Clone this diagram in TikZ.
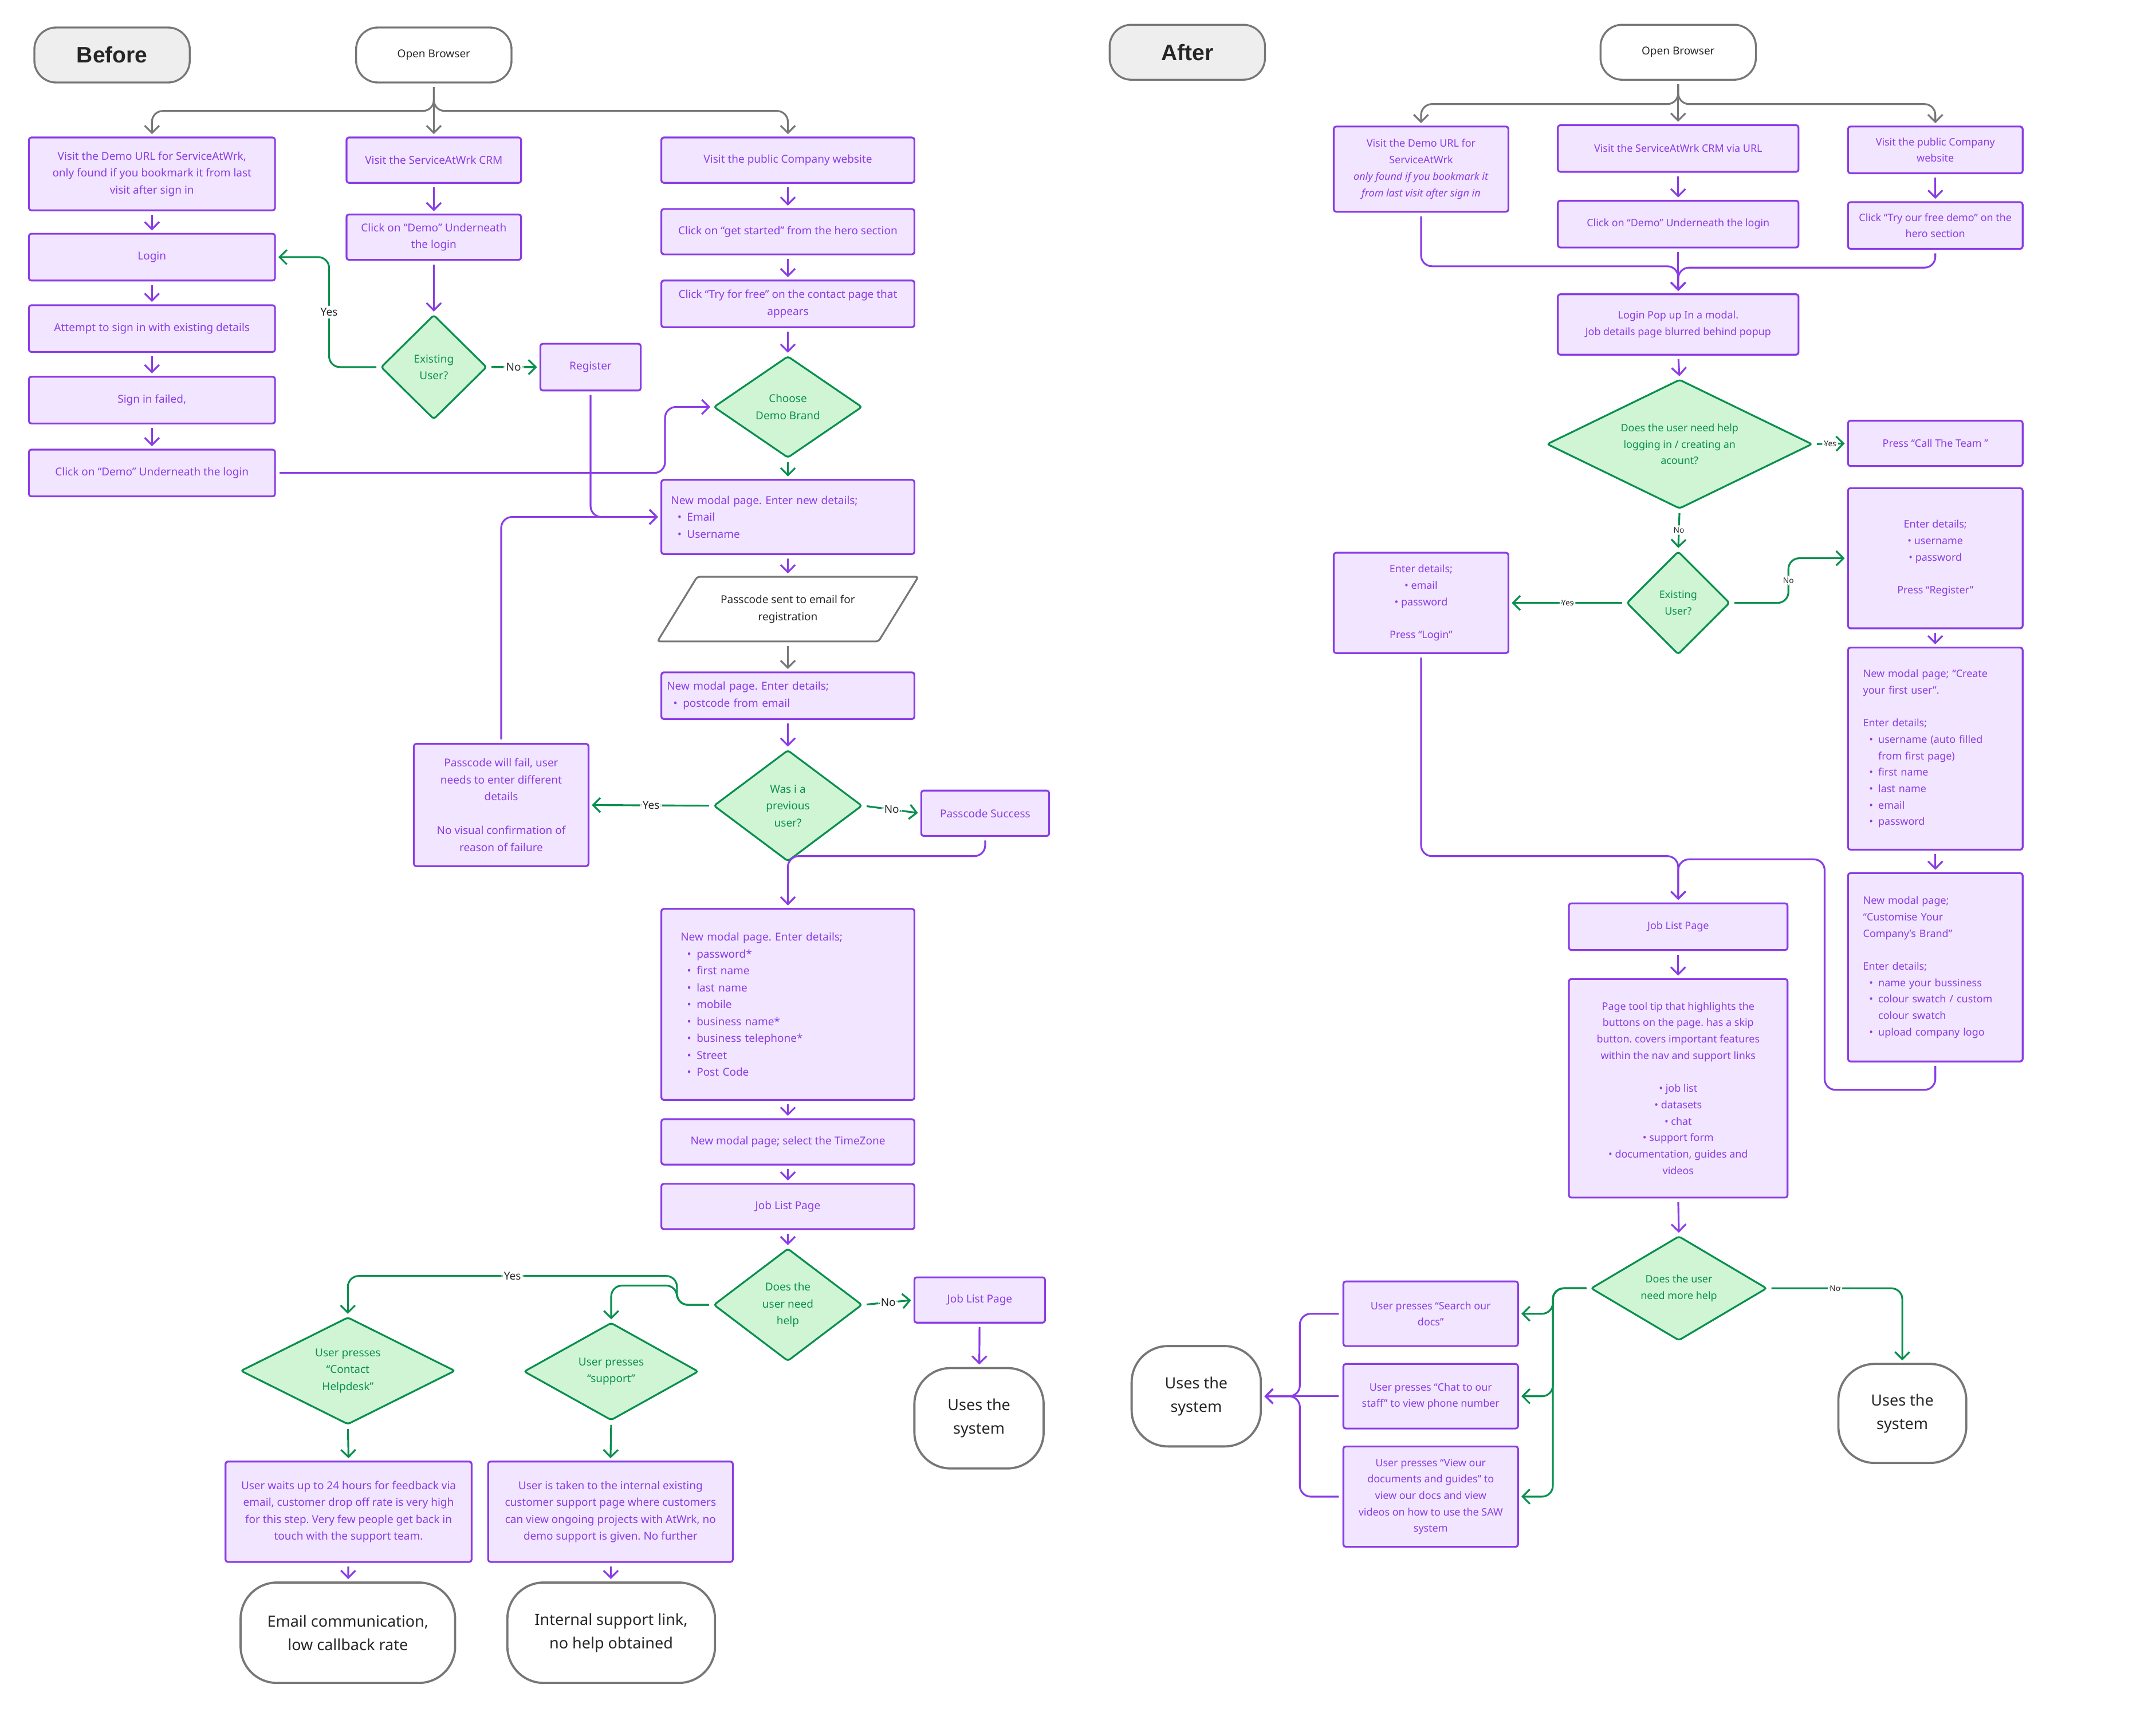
\documentclass[tikz,border=0pt]{standalone}
\usepackage{fontspec}
\setmainfont{Noto Sans}
\newfontfamily\headfont{Liberation Sans}
\usetikzlibrary{shapes.geometric, arrows.meta}
\usetikzlibrary{calc,positioning}

\definecolor{purp}{HTML}{8A3DE6}
\definecolor{purpfill}{HTML}{F1E5FF}
\definecolor{grn}{HTML}{0A8F4F}
\definecolor{grnfill}{HTML}{CFF5D5}
\definecolor{gry}{HTML}{777777}
\definecolor{pillfill}{HTML}{EEEEEE}

\newcommand{\bfnt}{\fontsize{9}{14}\selectfont}
\newcommand{\afnt}{\fontsize{8.5}{13.6}\selectfont}
\newcommand{\bul}{\hspace*{0.6em}\textbullet\hspace{0.5em}}
\newcommand{\bulind}{\hspace*{0.6em}\phantom{\textbullet}\hspace{0.5em}}

\tikzset{
  wh/.style 2 args={minimum width=#1*0.04cm, minimum height=#2*0.04cm},
  tw/.style={text width=#1*0.04cm},
  pbox/.style={draw=purp, fill=purpfill, text=purp, line width=1.5pt, rounded corners=2pt, align=center, inner sep=2pt, font=\bfnt},
  pboxA/.style={pbox, font=\afnt},
  gdia/.style={diamond, draw=grn, fill=grnfill, text=grn, line width=1.5pt, rounded corners=2pt, align=center, inner sep=0pt, font=\bfnt},
  gdiaA/.style={gdia, font=\afnt},
  pill/.style={draw=gry, line width=1.6pt, rounded corners=18pt, text=black!85},
  head/.style={pill, fill=pillfill, wh={113}{40}, font=\headfont\fontsize{18.5}{22}\selectfont\bfseries},
  term/.style={draw=gry, fill=white, line width=1.8pt, rounded corners=30pt, align=center, text=black!85, font=\fontsize{12.8}{19.5}\selectfont},
  pline/.style={draw=purp, line width=1.5pt, -{Straight Barb[length=6pt,width=12pt]}, rounded corners=9pt, shorten <=3pt, shorten >=2pt},
  gline/.style={pline, draw=grn},
  grline/.style={pline, draw=gry},
  lbl/.style={fill=white, text=black!85, inner sep=2pt, font=\bfnt},
  albl/.style={lbl, inner sep=1.5pt, font=\fontsize{6.5}{8}\selectfont},
}

\begin{document}
\frenchspacing
\begin{tikzpicture}[x=0.04cm, y=-0.04cm]

    \useasboundingbox (0,0) rectangle (1568,1245);

    % Before: heading and start
    \node[head] (before) at (81.5,40) {Before};
    \node[pill, fill=white, wh={113}{40}, font=\fontsize{9}{11}\selectfont] (obA) at (315.5,40) {Open Browser};

    % Before: three entry routes
    \node[pbox, wh={179}{53}] (a1) at (110.5,126.5) {Visit the Demo URL for ServiceAtWrk,\\only found if you bookmark it from last\\visit after sign in};
    \node[pbox, wh={127}{33}] (a2) at (315.5,116.5) {Visit the ServiceAtWrk CRM};
    \node[pbox, wh={184}{33}] (a3) at (573,116.5) {Visit the public Company website};

    \node[pbox, wh={179}{34}] (b1) at (110.5,187) {Login};
    \node[pbox, wh={179}{34}] (c1) at (110.5,239) {Attempt to sign in with existing details};
    \node[pbox, wh={179}{34}] (d1) at (110.5,291) {Sign in failed,};
    \node[pbox, wh={179}{34}] (e1) at (110.5,344) {Click on “Demo” Underneath the login};

    \node[pbox, wh={127}{33}] (a2b) at (315.5,172.5) {Click on “Demo” Underneath\\the login};
    \node[gdia, wh={77}{76}] (exA) at (315.5,267) {Existing\\User?};
    \node[pbox, wh={73}{34}] (reg) at (429.5,267) {Register};

    \node[pbox, wh={184}{33}] (a3b) at (573,168.5) {Click on “get started” from the hero section};
    \node[pbox, wh={184}{34}] (a3c) at (573,221) {Click “Try for free” on the contact page that\\appears};
    \node[gdia, wh={108}{74}, aspect=1.5] (brand) at (573,296) {Choose\\Demo Brand};

    % Before: registration
    \node[pbox, wh={184}{54}, tw=170, align=left] (m1) at (573,376) {New modal page. Enter new details;\\\bul Email\\\bul Username};
    \node[trapezium, trapezium left angle=49, trapezium right angle=131, trapezium stretches=true,
          draw=gry, fill=white, line width=1.5pt, rounded corners=2pt, wh={190}{47},
          align=center, text=black!85, font=\bfnt] (pc) at (573,443) {Passcode sent to email for\\registration};
    \node[pbox, wh={184}{34}, tw=176, align=left] (m2) at (573,506) {New modal page. Enter details;\\\bul postcode from email};
    \node[gdia, wh={108}{81}, aspect=1.3] (was) at (573,586) {Was i a\\previous\\user?};
    \node[pbox, wh={127}{89}] (fail) at (364.5,585.5) {Passcode will fail, user\\needs to enter different\\details\\[14pt]No visual confirmation of\\reason of failure};
    \node[pbox, wh={93}{33}] (succ) at (716.5,591.5) {Passcode Success};

    \node[pbox, wh={184}{139}, tw=156, align=left] (m3) at (573,730.5) {New modal page. Enter details;\\\bul password*\\\bul first name\\\bul last name\\\bul mobile\\\bul business name*\\\bul business telephone*\\\bul Street\\\bul Post Code};
    \node[pbox, wh={184}{33}] (m4) at (573,830.5) {New modal page; select the TimeZone};
    \node[pbox, wh={184}{33}] (jlA) at (573,877.5) {Job List Page};

    % Before: help
    \node[gdia, wh={108}{82}, aspect=1.3] (need) at (573,949) {Does the\\user need\\help};
    \node[pbox, wh={95}{33}] (jlB) at (712.5,945.5) {Job List Page};
    \node[term, wh={94}{73}] (useA) at (712,1031.5) {Uses the\\system};
    \node[gdia, wh={156}{78}, aspect=2] (ch) at (253,997) {User presses\\“Contact\\Helpdesk”};
    \node[gdia, wh={127}{71}, aspect=1.8] (sp) at (444.5,997.5) {User presses\\“support”};
    \node[pbox, wh={179}{73}] (w1) at (253.5,1099.5) {User waits up to 24 hours for feedback via\\email, customer drop off rate is very high\\for this step. Very few people get back in\\touch with the support team.};
    \node[pbox, wh={178}{73}] (w2) at (444,1099.5) {User is taken to the internal existing\\customer support page where customers\\can view ongoing projects with AtWrk, no\\demo support is given. No further};
    \node[term, wh={156}{73}] (t1) at (253,1187.5) {Email communication,\\low callback rate};
    \node[term, wh={151}{73}] (t2) at (444.5,1187.5) {Internal support link,\\no help obtained};

    % Before: connectors
    \draw[grline] (obA.south) -- (a2.north);
    \draw[grline] (obA.south) -- ++(0,20) -| (a1.north);
    \draw[grline] (obA.south) -- ++(0,20) -| (a3.north);
    \draw[pline] (a1) -- (b1);
    \draw[pline] (b1) -- (c1);
    \draw[pline] (c1) -- (d1);
    \draw[pline] (d1) -- (e1);
    \draw[pline] (a2) -- (a2b);
    \draw[pline] (a2b) -- (exA.north);
    \draw[gline] (exA.west) -- ++(-37,0) |- node[lbl, pos=0.25] {Yes} (b1.east);
    \draw[gline] (exA.east) -- node[lbl] {No} (reg.west);
    \draw[pline] (reg.south) |- (m1.west);
    \draw[pline] (e1.east) -- ++(283,0) |- (brand.west);
    \draw[pline] (a3) -- (a3b);
    \draw[pline] (a3b) -- (a3c);
    \draw[pline] (a3c) -- (brand.north);
    \draw[gline] (brand.south) -- (m1.north);
    \draw[pline] (m1) -- (pc);
    \draw[grline] (pc.south) -- (m2.north);
    \draw[pline] (m2) -- (was.north);
    \draw[gline] (was.west) -- node[lbl] {Yes} (fail.east);
    \draw[gline] (was.east) -- node[lbl] {No} (succ.west);
    \draw[pline] (fail.north) |- (m1.west);
    \draw[pline] (succ.south) -- ++(0,14) -| (m3.north);
    \draw[pline] (m3) -- (m4);
    \draw[pline] (m4) -- (jlA);
    \draw[pline] (jlA) -- (need.north);
    \draw[gline] (need.east) -- node[lbl] {No} (jlB.west);
    \draw[pline] (jlB) -- (useA);
    \draw[gline] (need.west) -- ++(-26,0) -- ++(0,-21) -| node[lbl, pos=0.25] {Yes} (ch.north);
    \draw[gline] (need.west) -- ++(-26,0) -- ++(0,-14) -| (sp.north);
    \draw[gline] (ch.south) -- (w1.north);
    \draw[gline] (sp.south) -- (w2.north);
    \draw[pline] (w1) -- (t1);
    \draw[pline] (w2) -- (t2);

    % After: heading and start
    \node[head] (after) at (863.5,38) {After};
    \node[pill, fill=white, wh={113}{40}, font=\fontsize{9}{11}\selectfont] (obB) at (1220.5,38) {Open Browser};

    \node[pboxA, wh={127}{62}] (r1) at (1033.5,123) {Visit the Demo URL for\\ServiceAtWrk\\\textit{only found if you bookmark it}\\\textit{from last visit after sign in}};
    \node[pboxA, wh={175}{34}] (r2) at (1220.5,108) {Visit the ServiceAtWrk CRM via URL};
    \node[pboxA, wh={127}{34}] (r3) at (1407.5,109) {Visit the public Company\\website};
    \node[pboxA, wh={175}{34}] (r2b) at (1220.5,163) {Click on “Demo” Underneath the login};
    \node[pboxA, wh={127}{34}] (r3b) at (1407.5,164) {Click “Try our free demo” on the\\hero section};
    \node[pboxA, wh={175}{44}] (lp) at (1220.5,236) {Login Pop up In a modal.\\Job details page blurred behind popup};

    % After: login or register
    \node[gdiaA, wh={193}{94}, aspect=2] (help) at (1221.5,323) {Does the user need help\\logging in / creating an\\acount?};
    \node[pboxA, wh={127}{33}] (call) at (1407.5,322.5) {Press “Call The Team ”};
    \node[gdiaA, wh={75}{75}] (exB) at (1220.5,438.5) {Existing\\User?};
    \node[pboxA, wh={127}{73}] (logB) at (1033.5,438.5) {Enter details;\\\textbullet\ email\\\textbullet\ password\\[13.6pt]Press “Login”};
    \node[pboxA, wh={127}{102}] (regB) at (1407.5,406) {Enter details;\\\textbullet\ username\\\textbullet\ password\\[13.6pt]Press “Register”};
    \node[pboxA, wh={127}{147}, tw=105, align=left] (cr) at (1407.5,544.5) {New modal page; “Create\\your first user”.\\[13.6pt]Enter details;\\\bul username (auto filled\\\bulind from first page)\\\bul first name\\\bul last name\\\bul email\\\bul password};
    \node[pboxA, wh={127}{137}, tw=105, align=left] (cu) at (1407.5,703.5) {New modal page;\\“Customise Your\\Company’s Brand”\\[13.6pt]Enter details;\\\bul name your bussiness\\\bul colour swatch / custom\\\bulind colour swatch\\\bul upload company logo};

    % After: job list and help
    \node[pboxA, wh={159}{34}] (jlC) at (1220.5,674) {Job List Page};
    \node[pboxA, wh={159}{159}] (tip) at (1220.5,791.5) {Page tool tip that highlights the\\buttons on the page. has a skip\\button. covers important features\\within the nav and support links\\[13.6pt]\textbullet\ job list\\\textbullet\ datasets\\\textbullet\ chat\\\textbullet\ support form\\\textbullet\ documentation, guides and\\videos};
    \node[gdiaA, wh={128}{76}, aspect=1.7] (more) at (1221,937) {Does the user\\need more help};
    \node[term, wh={93}{72}] (useC) at (1383.5,1028) {Uses the\\system};
    \node[pboxA, wh={127}{47}] (s1) at (1040.5,955.5) {User presses “Search our\\docs”};
    \node[pboxA, wh={127}{47}] (s2) at (1040.5,1015.5) {User presses “Chat to our\\staff” to view phone number};
    \node[pboxA, wh={127}{73}] (s3) at (1040.5,1088.5) {User presses “View our\\documents and guides” to\\view our docs and view\\videos on how to use the SAW\\system};
    \node[term, wh={94}{73}] (useB) at (870,1015.5) {Uses the\\system};

    % After: connectors
    \draw[grline] (obB.south) -- (r2.north);
    \draw[grline] (obB.south) -- ++(0,17) -| (r1.north);
    \draw[grline] (obB.south) -- ++(0,17) -| (r3.north);
    \draw[pline] (r2) -- (r2b);
    \draw[pline] (r3) -- (r3b);
    \draw[pline] (r1.south) -- ++(0,39) -| (lp.north);
    \draw[pline] (r3b.south) -- ++(0,13) -| (lp.north);
    \draw[pline] (r2b) -- (lp);
    \draw[pline] (lp.south) -- (help.north);
    \draw[gline] (help.east) -- node[albl] {Yes} (call.west);
    \draw[gline] (help.south) -- node[albl] {No} (exB.north);
    \draw[gline] (exB.west) -- node[albl] {Yes} (logB.east);
    \draw[gline] (exB.east) -- ++(42,0) |- node[albl, pos=0.25] {No} (regB.west);
    \draw[pline] (regB) -- (cr);
    \draw[pline] (cr) -- (cu);
    \draw[pline] (cu.south) -- ++(0,20) -| (1327,625) -| (jlC.north);
    \draw[pline] (logB.south) -- ++(0,147) -| (jlC.north);
    \draw[pline] (jlC) -- (tip);
    \draw[pline] (tip.south) -- (more.north);
    \draw[gline] (more.east) -| node[albl, pos=0.25] {No} (useC.north);
    \draw[gline] (more.west) -- ++(-27,0) |- (s1.east);
    \draw[gline] (more.west) -- ++(-27,0) |- (s2.east);
    \draw[gline] (more.west) -- ++(-27,0) |- (s3.east);
    \draw[pline] (s1.west) -- ++(-31,0) |- (useB.east);
    \draw[pline] (s2.west) -- (useB.east);
    \draw[pline] (s3.west) -- ++(-31,0) |- (useB.east);

\end{tikzpicture}
\end{document}
